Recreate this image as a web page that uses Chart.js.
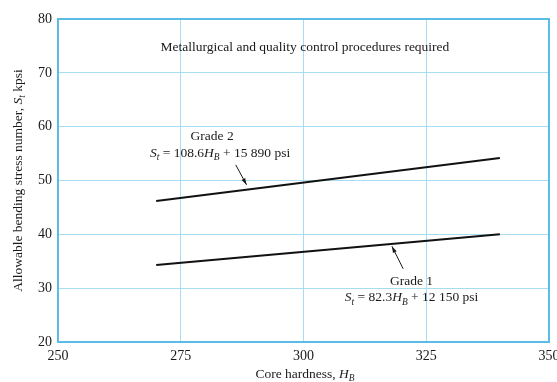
<!DOCTYPE html>
<html>
<head>
<meta charset="utf-8">
<script src="https://cdn.jsdelivr.net/npm/chart.js@4.4.0/dist/chart.umd.min.js"></script>
<style>
  html, body { margin: 0; padding: 0; background: #fff; }
  #wrap { width: 557px; height: 382px; }
</style>
</head>
<body>
<div id="wrap"><canvas id="grafica"></canvas></div>
<script>
// Core hardness range covered by both grades
const dureza = [270, 340];
// Allowable bending stress, kpsi
const grado1 = [34.3, 40.0];
const grado2 = [46.2, 54.2];

const ticksX = [250, 275, 300, 325, 350];
const ticksY = [20, 30, 40, 50, 60, 70, 80];

const serif = '"Liberation Serif", "Times New Roman", serif';
const tam = 13.5;

// draws a run of text pieces: [text, italic, subscript]
function textoRico(ctx, partes, x, y, size, align) {
  const fuente = (p) => (p[1] ? 'italic ' : '') + (p[2] ? size * 0.7 : size) + 'px ' + serif;
  let total = 0;
  partes.forEach(p => { ctx.font = fuente(p); total += ctx.measureText(p[0]).width; });
  let cx = align === 'center' ? x - total / 2 : x;
  ctx.textAlign = 'left';
  ctx.textBaseline = 'middle';
  partes.forEach(p => {
    ctx.font = fuente(p);
    ctx.fillText(p[0], cx, p[2] ? y + size * 0.34 : y);
    cx += ctx.measureText(p[0]).width;
  });
}

function flecha(ctx, x1, y1, x2, y2) {
  const ang = Math.atan2(y2 - y1, x2 - x1);
  ctx.beginPath();
  ctx.moveTo(x1, y1);
  ctx.lineTo(x2, y2);
  ctx.lineWidth = 1;
  ctx.stroke();
  ctx.beginPath();
  ctx.moveTo(x2, y2);
  ctx.lineTo(x2 - 7 * Math.cos(ang - 0.3), y2 - 7 * Math.sin(ang - 0.3));
  ctx.lineTo(x2 - 7 * Math.cos(ang + 0.3), y2 - 7 * Math.sin(ang + 0.3));
  ctx.closePath();
  ctx.fill();
}

const anotaciones = {
  id: 'anotaciones',
  afterDatasetsDraw(chart) {
    const { ctx, chartArea: a, scales: { x, y } } = chart;
    ctx.save();
    // blue frame round the plot
    ctx.strokeStyle = '#5bbde6';
    ctx.lineWidth = 2;
    ctx.strokeRect(a.left, a.top, a.right - a.left, a.bottom - a.top);

    ctx.fillStyle = '#1a1a1a';
    ctx.strokeStyle = '#1a1a1a';
    textoRico(ctx, [['Metallurgical and quality control procedures required']],
      x.getPixelForValue(300.3), y.getPixelForValue(74.8), tam, 'center');

    textoRico(ctx, [['Grade 2']], x.getPixelForValue(281.4), y.getPixelForValue(58.1), tam, 'center');
    textoRico(ctx, [['S', true], ['t', true, true], [' = 108.6'], ['H', true], ['B', true, true], [' + 15 890 psi']],
      x.getPixelForValue(283), y.getPixelForValue(55.1), tam, 'center');
    flecha(ctx, x.getPixelForValue(286.2), y.getPixelForValue(52.9),
      x.getPixelForValue(288.4), y.getPixelForValue(49.2));

    textoRico(ctx, [['Grade 1']], x.getPixelForValue(322), y.getPixelForValue(31.3), tam, 'center');
    textoRico(ctx, [['S', true], ['t', true, true], [' = 82.3'], ['H', true], ['B', true, true], [' + 12 150 psi']],
      x.getPixelForValue(322), y.getPixelForValue(28.2), tam, 'center');
    flecha(ctx, x.getPixelForValue(320.3), y.getPixelForValue(33.6),
      x.getPixelForValue(318), y.getPixelForValue(37.8));

    // axis titles
    textoRico(ctx, [['Core hardness, '], ['H', true], ['B', true, true]],
      x.getPixelForValue(300.3), 374, tam, 'center');
    ctx.translate(18, (a.top + a.bottom) / 2);
    ctx.rotate(-Math.PI / 2);
    textoRico(ctx, [['Allowable bending stress number, '], ['S', true], ['t', true, true], [' kpsi']],
      0, 0, tam, 'center');
    ctx.restore();
  }
};

const puntos = (ys) => dureza.map((h, i) => ({ x: h, y: ys[i] }));

new Chart(document.querySelector('#grafica'), {
  type: 'line',
  data: {
    datasets: [
      { label: 'Grade 1', data: puntos(grado1), borderColor: '#111', borderWidth: 2, pointRadius: 0 },
      { label: 'Grade 2', data: puntos(grado2), borderColor: '#111', borderWidth: 2, pointRadius: 0 }
    ]
  },
  options: {
    responsive: true,
    maintainAspectRatio: false,
    animation: false,
    layout: { padding: { top: 19, right: 8, left: 0, bottom: 0 } },
    plugins: { legend: { display: false }, tooltip: { enabled: false } },
    scales: {
      x: {
        type: 'linear',
        min: 250, max: 350,
        afterBuildTicks: (s) => { s.ticks = ticksX.map(v => ({ value: v })); },
        afterFit: (s) => { s.height = 40; s.paddingLeft = 0; s.paddingRight = 0; },
        grid: { color: '#a8dcf2', lineWidth: 1, drawTicks: false },
        border: { display: false },
        ticks: { padding: 6, color: '#1a1a1a', font: { family: serif, size: 14 }, maxRotation: 0 }
      },
      y: {
        min: 20, max: 80,
        afterBuildTicks: (s) => { s.ticks = ticksY.map(v => ({ value: v })); },
        afterFit: (s) => { s.width = 58; s.paddingTop = 0; s.paddingBottom = 0; },
        grid: { color: '#a8dcf2', lineWidth: 1, drawTicks: false },
        border: { display: false },
        ticks: { padding: 6, color: '#1a1a1a', font: { family: serif, size: 14 } }
      }
    }
  },
  plugins: [anotaciones]
});
</script>
</body>
</html>
